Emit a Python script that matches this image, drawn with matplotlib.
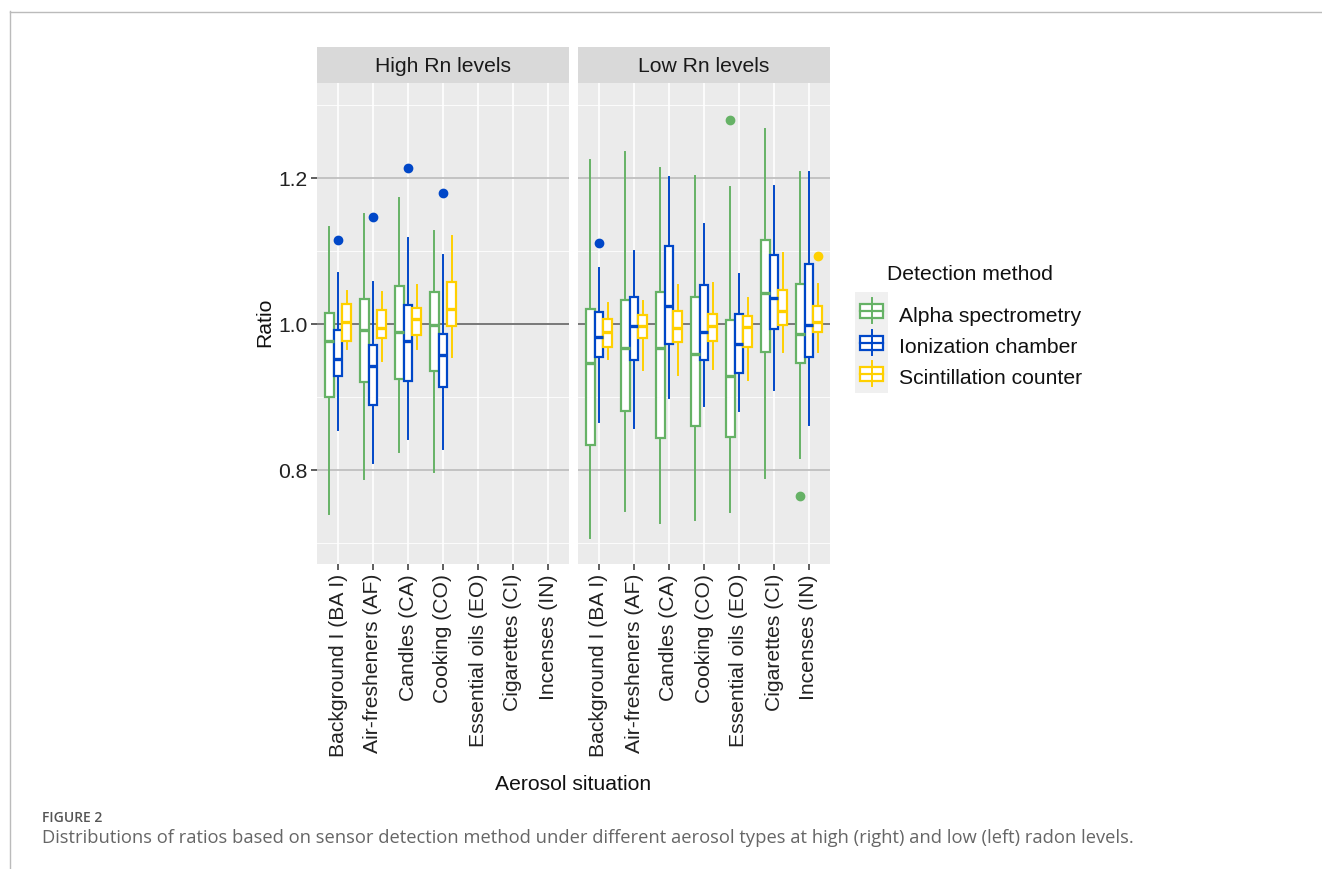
import matplotlib
matplotlib.use("Agg")
import matplotlib.pyplot as plt
from matplotlib.patches import Rectangle
from matplotlib.lines import Line2D

plt.rcParams['font.family'] = ['Liberation Sans', 'DejaVu Sans']

categories = ["Background I (BA I)", "Air-fresheners (AF)", "Candles (CA)",
              "Cooking (CO)", "Essential oils (EO)", "Cigarettes (CI)",
              "Incenses (IN)"]
methods = ["Alpha spectrometry", "Ionization chamber", "Scintillation counter"]
colors = ["#66B266", "#0047C8", "#FFD000"]
panels = ["High Rn levels", "Low Rn levels"]

# each box: (whisker low, q1, median, q3, whisker high, [outliers])
high_alpha = [(0.739, 0.900, 0.976, 1.015, 1.133, []),
              (0.788, 0.920, 0.991, 1.034, 1.150, []),
              (0.825, 0.925, 0.989, 1.052, 1.172, []),
              (0.797, 0.936, 0.999, 1.043, 1.127, [])]
high_ion = [(0.855, 0.929, 0.952, 0.991, 1.070, [1.115]),
            (0.809, 0.889, 0.942, 0.971, 1.057, [1.147]),
            (0.842, 0.922, 0.976, 1.026, 1.117, [1.214]),
            (0.828, 0.914, 0.958, 0.986, 1.094, [1.179])]
high_scint = [(0.965, 0.977, 1.002, 1.027, 1.045, []),
              (0.949, 0.981, 0.995, 1.019, 1.043, []),
              (0.965, 0.985, 1.006, 1.022, 1.053, []),
              (0.954, 0.997, 1.020, 1.057, 1.120, [])]

low_alpha = [(0.707, 0.834, 0.946, 1.021, 1.225, []),
             (0.744, 0.881, 0.967, 1.033, 1.235, []),
             (0.727, 0.844, 0.967, 1.043, 1.214, []),
             (0.731, 0.860, 0.959, 1.037, 1.203, []),
             (0.742, 0.845, 0.929, 1.005, 1.188, [1.279]),
             (0.789, 0.961, 1.042, 1.115, 1.267, []),
             (0.816, 0.947, 0.986, 1.055, 1.208, [0.764])]
low_ion = [(0.865, 0.955, 0.982, 1.016, 1.077, [1.111]),
           (0.858, 0.951, 0.997, 1.037, 1.100, []),
           (0.898, 0.973, 1.024, 1.107, 1.201, []),
           (0.888, 0.951, 0.989, 1.053, 1.137, []),
           (0.880, 0.932, 0.972, 1.014, 1.069, []),
           (0.910, 0.993, 1.035, 1.094, 1.189, []),
           (0.861, 0.955, 0.998, 1.082, 1.208, [])]
low_scint = [(0.952, 0.968, 0.989, 1.007, 1.028, []),
             (0.937, 0.981, 0.997, 1.012, 1.032, []),
             (0.930, 0.975, 0.995, 1.018, 1.053, []),
             (0.938, 0.976, 0.997, 1.013, 1.056, []),
             (0.923, 0.968, 0.996, 1.011, 1.036, []),
             (0.961, 0.998, 1.017, 1.047, 1.097, []),
             (0.961, 0.989, 1.003, 1.025, 1.055, [1.093])]

data = [[high_alpha, high_ion, high_scint], [low_alpha, low_ion, low_scint]]

W, H = 1322, 870
FS = 15.2
fig = plt.figure(figsize=(W / 100, H / 100), dpi=100)

ax_lefts = [317, 578]
ax_w, ax_top, ax_bot = 252, 84, 565
offsets = [-0.25, 0.0, 0.25]

for p, name in enumerate(panels):
    ax = fig.add_axes([ax_lefts[p] / W, (H - ax_bot) / H, ax_w / W, (ax_bot - ax_top) / H])
    ax.set_facecolor("#EBEBEB")
    for s in ax.spines.values():
        s.set_visible(False)
    ax.set_xlim(-0.6, len(categories) - 0.4)
    ax.set_ylim(0.671, 1.330)
    for y in [0.7, 0.9, 1.1, 1.3]:
        ax.axhline(y, color="white", lw=0.6, zorder=0)
    for y in [0.8, 1.0, 1.2]:
        ax.axhline(y, color="white", lw=1.2, zorder=0)
    for x in range(len(categories)):
        ax.axvline(x, color="white", lw=1.2, zorder=0)
    ax.axhline(0.8, color="#B3B3B3", lw=1.1, zorder=1)
    ax.axhline(1.2, color="#B3B3B3", lw=1.1, zorder=1)
    ax.axhline(1.0, color="#555555", lw=1.1, zorder=1)

    for m, col in enumerate(colors):
        series = data[p][m]
        stats = []
        for lo, q1, med, q3, hi, fl in series:
            stats.append(dict(whislo=lo, q1=q1, med=med, q3=q3, whishi=hi, fliers=fl))
        pos = [i + offsets[m] for i in range(len(series))]
        ax.bxp(stats, positions=pos, widths=0.25, patch_artist=True,
               showcaps=False, manage_ticks=False,
               boxprops=dict(facecolor="white", edgecolor=col, lw=1.6),
               medianprops=dict(color=col, lw=2.4),
               whiskerprops=dict(color=col, lw=1.4),
               flierprops=dict(marker="o", markerfacecolor=col,
                               markeredgecolor=col, markersize=6),
               zorder=3)

    ax.set_xticks(range(len(categories)))
    ax.set_xticklabels(categories, rotation=90, fontsize=FS, color="#222222")
    ax.set_yticks([0.8, 1.0, 1.2])
    ax.tick_params(axis="both", length=4, width=1.1, color="#333333", pad=2.5)
    if p == 0:
        ax.set_yticklabels(["0.8", "1.0", "1.2"], fontsize=FS, color="#222222")
    else:
        ax.tick_params(axis="y", left=False, labelleft=False)

    strip = fig.add_axes([ax_lefts[p] / W, (H - 84) / H, ax_w / W, 36 / H])
    strip.set_facecolor("#D9D9D9")
    strip.set_xticks([])
    strip.set_yticks([])
    for s in strip.spines.values():
        s.set_visible(False)
    strip.text(0.5, 0.48, name, ha="center", va="center", fontsize=FS,
               color="#1A1A1A", transform=strip.transAxes)

fig.text(265 / W, 1 - 322 / H, "Ratio", rotation=90, ha="center", va="center",
         fontsize=FS, color="#111111")
fig.text(573 / W, 1 - 785 / H, "Aerosol situation", ha="center", va="center",
         fontsize=FS, color="#111111")

# legend
fig.text(970 / W, 1 - 275 / H, "Detection method", ha="center", va="center",
         fontsize=FS, color="#111111")
fig.patches.append(Rectangle((855 / W, 1 - 394 / H), 33 / W, 101 / H,
                             transform=fig.transFigure, facecolor="#F0F0F0",
                             edgecolor="none"))
for i, (lab, col) in enumerate(zip(methods, colors)):
    yc = 312 + 31.5 * i
    fig.lines.append(Line2D([872 / W, 872 / W], [1 - (yc - 13) / H, 1 - (yc + 12) / H],
                            transform=fig.transFigure, color=col, lw=1.4))
    fig.patches.append(Rectangle((860 / W, 1 - (yc + 7) / H), 23 / W, 14 / H,
                                 transform=fig.transFigure, facecolor="white",
                                 edgecolor=col, lw=1.6))
    fig.lines.append(Line2D([860 / W, 883 / W], [1 - yc / H, 1 - yc / H],
                            transform=fig.transFigure, color=col, lw=1.6))
    fig.text(899 / W, 1 - (yc + 4) / H, lab, ha="left", va="center", fontsize=FS,
             color="#111111")

# caption
fig.text(42 / W, 1 - 818 / H, "FIGURE 2", ha="left", va="center", fontsize=10,
         fontweight="semibold", color="#555555", family=["Open Sans", "DejaVu Sans"])
fig.text(42 / W, 1 - 838 / H,
         "Distributions of ratios based on sensor detection method under different "
         "aerosol types at high (right) and low (left) radon levels.",
         ha="left", va="center", fontsize=13.2, color="#666666",
         family=["Open Sans", "DejaVu Sans"])

fig.lines.append(Line2D([9.5 / W, 9.5 / W], [0, 1 - 12 / H], transform=fig.transFigure,
                        color="#BBBBBB", lw=1))
fig.lines.append(Line2D([9.5 / W, 1], [1 - 12.5 / H, 1 - 12.5 / H], transform=fig.transFigure,
                        color="#BBBBBB", lw=1))

fig.savefig("out.png", dpi=100)
